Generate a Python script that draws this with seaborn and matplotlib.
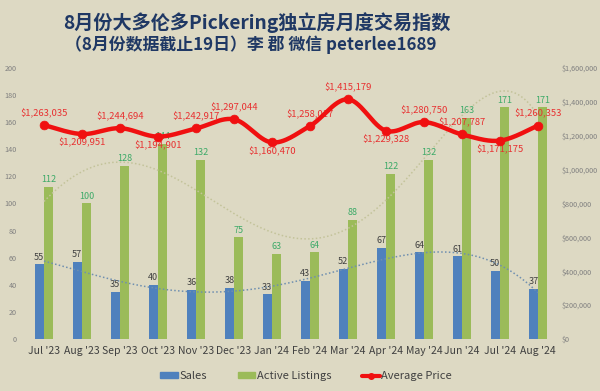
import numpy as np
import pandas as pd
import matplotlib
matplotlib.use("Agg")
import matplotlib.pyplot as plt
import seaborn as sns
from matplotlib.lines import Line2D
from matplotlib.patches import Patch
from matplotlib.ticker import FuncFormatter

months = ["Jul '23", "Aug '23", "Sep '23", "Oct '23", "Nov '23", "Dec '23", "Jan '24",
          "Feb '24", "Mar '24", "Apr '24", "May '24", "Jun '24", "Jul '24", "Aug '24"]
sales = [55, 57, 35, 40, 36, 38, 33, 43, 52, 67, 64, 61, 50, 37]
listings = [112, 100, 128, 144, 132, 75, 63, 64, 88, 122, 132, 163, 171, 171]
prices = [1263035, 1209951, 1244694, 1194901, 1242917, 1297044, 1160470,
          1258017, 1415179, 1229328, 1280750, 1207787, 1171175, 1260353]
# label above (+1) or below (-1) the price point
price_label_side = [1, -1, 1, -1, 1, 1, -1, 1, 1, -1, 1, 1, -1, 1]

title1 = "8月份大多伦多Pickering独立房月度交易指数"
title2 = "（8月份数据截止19日）李 郡 微信 peterlee1689"

bg = "#DDD9C3"
sns.set_theme(style="white")
plt.rcParams["font.family"] = ["Noto Sans CJK SC", "DejaVu Sans"]

df = pd.DataFrame({"month": months, "Sales": sales, "Active Listings": listings})
long = df.melt(id_vars="month", var_name="series", value_name="value")

fig = plt.figure(figsize=(6, 3.91), dpi=100, facecolor=bg)
ax = fig.add_axes([25 / 600, 52 / 391, 532 / 600, 271 / 391])
ax.set_facecolor(bg)

sns.barplot(data=long, x="month", y="value", hue="series", order=months,
            hue_order=["Sales", "Active Listings"],
            palette=["#4F81BD", "#9BBB59"], width=0.5, gap=0.04,
            linewidth=0, saturation=1, legend=False, ax=ax, zorder=2)

for cont, col in zip(ax.containers, ["#404040", "#3DAA68"]):
    ax.bar_label(cont, labels=[str(int(b.get_height())) for b in cont],
                 padding=2, fontsize=6.5, color=col)

# polynomial trend lines
x = np.arange(len(months))
xs = np.linspace(0, len(months) - 1, 200)
ax.plot(xs, np.polyval(np.polyfit(x, sales, 4), xs), ls=(0, (1, 1.5)),
        color="#6F8FB0", lw=1.1, zorder=3)
ax.plot(xs, np.polyval(np.polyfit(x, listings, 5), xs), ls=(0, (1, 1.5)),
        color="#C3C39A", lw=1.1, zorder=3)

ax.set_ylim(0, 200)
ax.set_xlim(-0.5, len(months) - 0.5)
ax.set_yticks(range(0, 201, 20))
ax.set_xlabel("")
ax.set_ylabel("")
ax.tick_params(axis="y", labelsize=5.2, labelcolor="#7F7F7F", length=0, pad=6)
ax.tick_params(axis="x", labelsize=7.5, labelcolor="#404040", length=0, pad=5)
for s in ax.spines.values():
    s.set_visible(False)

ax2 = ax.twinx()
ax2.set_ylim(0, 1600000)
ax2.set_yticks(range(0, 1600001, 200000))
ax2.yaxis.set_major_formatter(FuncFormatter(lambda v, p: f"${v:,.0f}"))
ax2.tick_params(axis="y", labelsize=5.2, labelcolor="#7F7F7F", length=0, pad=3)
for s in ax2.spines.values():
    s.set_visible(False)

# smoothed line (Catmull-Rom through the points, in pixel-like scale)
px = x * 38.0
py = np.array(prices) / 1600000 * 271
P = np.column_stack([px, py])
P = np.vstack([P[0], P, P[-1]])
curve = []
for i in range(1, len(P) - 2):
    p0, p1, p2, p3 = P[i - 1], P[i], P[i + 1], P[i + 2]
    t = np.linspace(0, 1, 30)[:, None]
    seg = 0.5 * ((2 * p1) + (-p0 + p2) * t + (2 * p0 - 5 * p1 + 4 * p2 - p3) * t ** 2
                 + (-p0 + 3 * p1 - 3 * p2 + p3) * t ** 3)
    curve.append(seg)
curve = np.vstack(curve)
ax2.plot(curve[:, 0] / 38.0, curve[:, 1] / 271 * 1600000, color="#F01010", lw=3.2,
         solid_capstyle="round", zorder=4)
sns.scatterplot(x=x, y=prices, ax=ax2, color="#F01010", s=40, edgecolor="#F01010",
                zorder=5, legend=False)

for xi, p, side in zip(x, prices, price_label_side):
    ax2.annotate(f"${p:,}", (xi, p), xytext=(0, 5 if side > 0 else -3),
                 textcoords="offset points",
                 ha="center", va="bottom" if side > 0 else "top",
                 fontsize=6.8, color="#E83030")

fig.text(0.428, 0.941, title1, ha="center", va="center", fontsize=13.8,
         fontweight="bold", color="#1F3864")
fig.text(0.418, 0.885, title2, ha="center", va="center", fontsize=12.2,
         fontweight="bold", color="#1F3864")

handles = [Patch(color="#4F81BD", label="Sales"),
           Patch(color="#9BBB59", label="Active Listings"),
           Line2D([0], [0], color="#F01010", lw=3, marker="o", ms=4, label="Average Price")]
fig.legend(handles=handles, loc="center", bbox_to_anchor=(0.51, 0.038), ncol=3,
           frameon=False, fontsize=8, handlelength=1.6, handleheight=0.5,
           handletextpad=0.1, columnspacing=2.8, labelcolor="#404040")

fig.savefig("out.png", dpi=100, facecolor=bg)
